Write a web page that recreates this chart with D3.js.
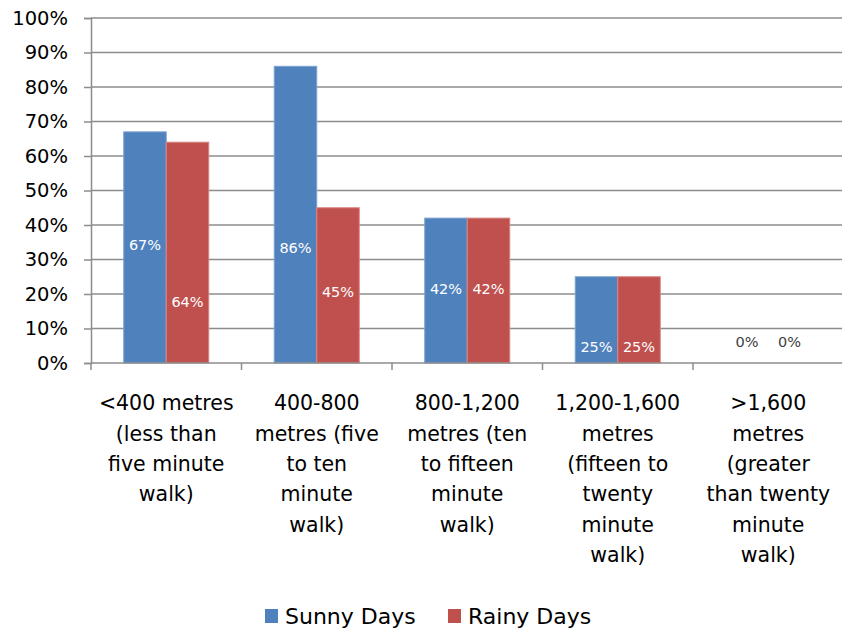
<!DOCTYPE html>
<html>
<head>
<meta charset="utf-8">
<script src="https://cdn.jsdelivr.net/npm/d3@7"></script>
<style>
  body { margin: 0; background: #fff; }
  text { font-family: "DejaVu Sans", sans-serif; }
</style>
</head>
<body>
<div id="chart"></div>
<script>
// walking distance categories, each label split into lines
const categories = [
  ["<400 metres", "(less than", "five minute", "walk)"],
  ["400-800", "metres (five", "to ten", "minute", "walk)"],
  ["800-1,200", "metres (ten", "to fifteen", "minute", "walk)"],
  ["1,200-1,600", "metres", "(fifteen to", "twenty", "minute", "walk)"],
  [">1,600", "metres", "(greater", "than twenty", "minute", "walk)"]
]
const seriesNames = ["Sunny Days", "Rainy Days"]
const sunny = [0.67, 0.86, 0.42, 0.25, 0]
const rainy = [0.64, 0.45, 0.42, 0.25, 0]
// where each data label sits, in axis units (as placed in the original)
const sunnyLabelAt = [0.342, 0.333, 0.214, 0.046, 0.06]
const rainyLabelAt = [0.177, 0.206, 0.214, 0.046, 0.06]
const yTicks = [0, 0.1, 0.2, 0.3, 0.4, 0.5, 0.6, 0.7, 0.8, 0.9, 1]

const colors = ["#4F81BD", "#C0504D"]
const width = 842, height = 630
const mLeft = 91, mRight = 843.5, mTop = 18, mBottom = 363

const svg = d3.select("#chart")
  .append("svg")
    .attr("width", width)
    .attr("height", height)

const catIds = categories.map((c, i) => i)

const x0 = d3.scaleBand()
  .domain(catIds)
  .range([mLeft, mRight])
  .padding(0)

const x1 = d3.scaleBand()
  .domain([0, 1])
  .range([0, x0.bandwidth()])
  .paddingInner(0)
  .paddingOuter(0.77)

const y = d3.scaleLinear()
  .domain([0, 1])
  .range([mBottom, mTop])

// gridlines
svg.append("g")
  .selectAll("line")
  .data(yTicks.filter(d => d > 0))
  .enter()
  .append("line")
    .attr("x1", mLeft)
    .attr("x2", mRight)
    .attr("y1", d => y(d))
    .attr("y2", d => y(d))
    .attr("stroke", "#8c8c8c")
    .attr("stroke-width", 1.5)

// y axis
const yAxis = svg.append("g")
  .attr("transform", `translate(${mLeft},0)`)
  .call(d3.axisLeft(y).tickValues(yTicks).tickFormat(d3.format(".0%")).tickSize(7).tickPadding(16))
yAxis.select(".domain").attr("stroke", "#8c8c8c").attr("stroke-width", 1.5)
yAxis.selectAll(".tick line").attr("stroke", "#8c8c8c").attr("stroke-width", 1.5)
yAxis.selectAll(".tick text")
  .attr("font-size", 19.5)
  .attr("fill", "#000")
  .attr("font-family", "DejaVu Sans")

// bars
const rows = catIds.map(i => ({
  i,
  vals: [
    { s: 0, v: sunny[i], at: sunnyLabelAt[i] },
    { s: 1, v: rainy[i], at: rainyLabelAt[i] }
  ]
}))

const groups = svg.append("g")
  .selectAll("g")
  .data(rows)
  .enter()
  .append("g")
    .attr("transform", d => `translate(${x0(d.i)},0)`)

groups.selectAll("rect")
  .data(d => d.vals.filter(v => v.v > 0))
  .enter()
  .append("rect")
    .attr("x", d => x1(d.s))
    .attr("y", d => y(d.v))
    .attr("width", x1.bandwidth())
    .attr("height", d => y(0) - y(d.v))
    .attr("fill", d => colors[d.s])
    .attr("stroke", d => d.s === 0 ? "#7ea3d0" : "#d98683")
    .attr("stroke-width", 1)

groups.selectAll("text")
  .data(d => d.vals)
  .enter()
  .append("text")
    .attr("x", d => x1(d.s) + x1.bandwidth() / 2)
    .attr("y", d => y(d.at))
    .attr("dy", "0.35em")
    .attr("text-anchor", "middle")
    .attr("font-size", 14.5)
    .attr("fill", d => d.v > 0 ? "#fff" : "#404040")
    .text(d => d3.format(".0%")(d.v))

// x axis
const xAxis = svg.append("g")
  .attr("transform", `translate(0,${mBottom})`)
xAxis.append("line")
  .attr("x1", mLeft).attr("x2", mRight)
  .attr("stroke", "#8c8c8c").attr("stroke-width", 1.5)
xAxis.selectAll(".tk")
  .data(catIds.concat([categories.length]))
  .enter()
  .append("line")
    .attr("class", "tk")
    .attr("x1", d => d < categories.length ? x0(d) : mRight)
    .attr("x2", d => d < categories.length ? x0(d) : mRight)
    .attr("y1", 0)
    .attr("y2", 7)
    .attr("stroke", "#8c8c8c")
    .attr("stroke-width", 1.5)

const catText = xAxis.selectAll(".cat")
  .data(catIds)
  .enter()
  .append("text")
    .attr("class", "cat")
    .attr("text-anchor", "middle")
    .attr("font-size", 20.5)
    .attr("fill", "#000")

catText.selectAll("tspan")
  .data(i => categories[i].map(line => ({ i, line })))
  .enter()
  .append("tspan")
    .attr("x", d => x0(d.i) + x0.bandwidth() / 2)
    .attr("y", (d, k) => 40 + k * 30.4)
    .attr("dy", "0.35em")
    .text(d => d.line)

// legend
const legend = svg.append("g")
  .attr("transform", "translate(265,609)")
const lx = [0, 183]
seriesNames.forEach((name, i) => {
  legend.append("rect")
    .attr("x", lx[i])
    .attr("y", 0)
    .attr("width", 13)
    .attr("height", 14)
    .attr("fill", colors[i])
  legend.append("text")
    .attr("x", lx[i] + 20)
    .attr("y", 7)
    .attr("dy", "0.35em")
    .attr("font-size", 22)
    .attr("fill", "#000")
    .text(name)
})
</script>
</body>
</html>
